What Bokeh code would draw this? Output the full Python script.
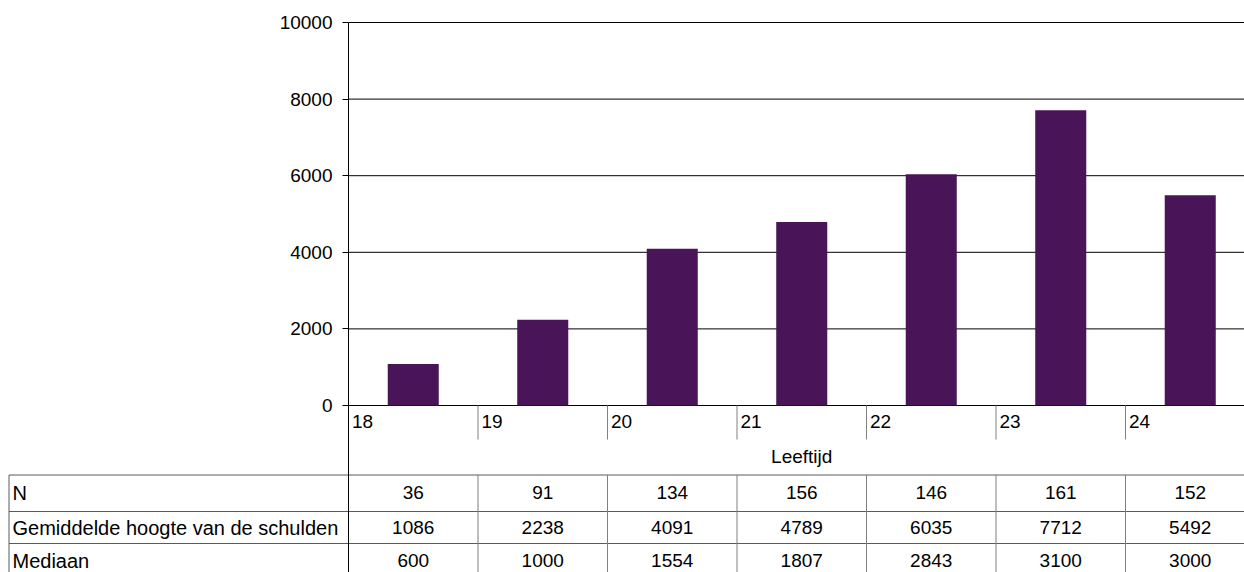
from bokeh.plotting import figure
from bokeh.models import Range1d, FixedTicker, LinearAxis
from bokeh.core.properties import value
from bokeh.embed import file_html
from bokeh.resources import INLINE

# ---- data ----
ages = ["18", "19", "20", "21", "22", "23", "24"]
n_values = [36, 91, 134, 156, 146, 161, 152]
mean_debt = [1086, 2238, 4091, 4789, 6035, 7712, 5492]
median_debt = [600, 1000, 1554, 1807, 2843, 3100, 3000]
row_labels = ["N", "Gemiddelde hoogte van de schulden", "Mediaan"]
y_ticks = [0, 2000, 4000, 6000, 8000, 10000]
x_title = "Leeftijd"

# ---- layout constants (page pixels) ----
FONT = "Liberation Sans"
FS = "19px"
W, H = 1244, 572
AXIS_X = 348          # page x of the value axis / first category edge
CAT_W = 129.5         # width of one category in px
Y0_PX, YTOP_PX = 405, 22
PPU = (Y0_PX - YTOP_PX) / 10000.0
BAR_COLOR = "#4A1558"
GRID_GRAY = "#808080"
TABLE_GRAY = "#5a5a5a"

n = len(ages)
x_start = -AXIS_X / CAT_W
x_end = (W - AXIS_X) / CAT_W
y_top = 10000 + YTOP_PX / PPU
y_bottom = -(H - Y0_PX) / PPU

def px_x(px):
    return (px - AXIS_X) / CAT_W

def px_y(px):
    return (Y0_PX - px) / PPU

p = figure(width=W, height=H, x_range=Range1d(x_start, x_end), y_range=Range1d(y_bottom, y_top),
           output_backend="svg", toolbar_location=None, x_axis_location=None, y_axis_location=None,
           min_border=0)
p.outline_line_color = None
p.grid.visible = False
p.background_fill_color = "white"
p.border_fill_color = "white"
p.extra_y_ranges = {"table": Range1d(H, 0)}

ax = LinearAxis(fixed_location=0, bounds=(y_bottom, 10000), ticker=FixedTicker(ticks=y_ticks))
ax.major_tick_out = 6
ax.major_tick_in = 0
ax.minor_tick_line_color = None
ax.axis_line_color = "black"
ax.major_tick_line_color = "black"
ax.major_label_text_font = FONT
ax.major_label_text_font_size = FS
ax.major_label_text_color = "black"
ax.major_label_standoff = 10
p.add_layout(ax, "left")

# horizontal grid lines at the tick values
p.segment(x0=[0] * len(y_ticks), x1=[x_end] * len(y_ticks), y0=y_ticks, y1=y_ticks,
          line_color="black", line_width=1)

centers = [i + 0.5 for i in range(n)]
p.vbar(x=centers, top=mean_debt, bottom=0, width=0.394, fill_color=BAR_COLOR, line_color=None)

# category dividers below the axis
div_x = list(range(1, n))
p.segment(x0=div_x, y0=[0] * len(div_x), x1=div_x, y1=[px_y(439)] * len(div_x),
          line_color=GRID_GRAY, line_width=1)

p.text(x=[i + 3.5 / CAT_W for i in range(n)], y=[px_y(421)] * n, text=ages,
       text_font=value(FONT), text_font_size=FS, text_color="black",
       text_align="left", text_baseline="middle")
p.text(x=[n / 2], y=[px_y(456)], text=[x_title],
       text_font=value(FONT), text_font_size=FS, text_color="black",
       text_align="center", text_baseline="middle")

# ---- data table below the chart (page-pixel y range) ----
TABLE_TOP = 474.5
row_lines = [TABLE_TOP, 511, 543]
left_b = px_x(8.5)
p.segment(x0=[left_b] * 3, x1=[x_end] * 3, y0=row_lines, y1=row_lines,
          line_color=TABLE_GRAY, line_width=1, y_range_name="table")
p.segment(x0=[left_b], x1=[left_b], y0=[TABLE_TOP], y1=[H],
          line_color=TABLE_GRAY, line_width=1, y_range_name="table")
p.segment(x0=div_x, x1=div_x, y0=[TABLE_TOP] * len(div_x), y1=[H] * len(div_x),
          line_color=GRID_GRAY, line_width=1, y_range_name="table")

row_y = [492, 527, 560]
p.text(x=[px_x(12)] * 3, y=row_y, text=row_labels,
       text_font=value(FONT), text_font_size="20px", text_color="black",
       text_align="left", text_baseline="middle", y_range_name="table")
for vals, yy in zip([n_values, mean_debt, median_debt], row_y):
    p.text(x=centers, y=[yy] * n, text=[str(v) for v in vals],
           text_font=value(FONT), text_font_size=FS, text_color="black",
           text_align="center", text_baseline="middle", y_range_name="table")

open("out.html", "w").write(file_html(p, INLINE))
